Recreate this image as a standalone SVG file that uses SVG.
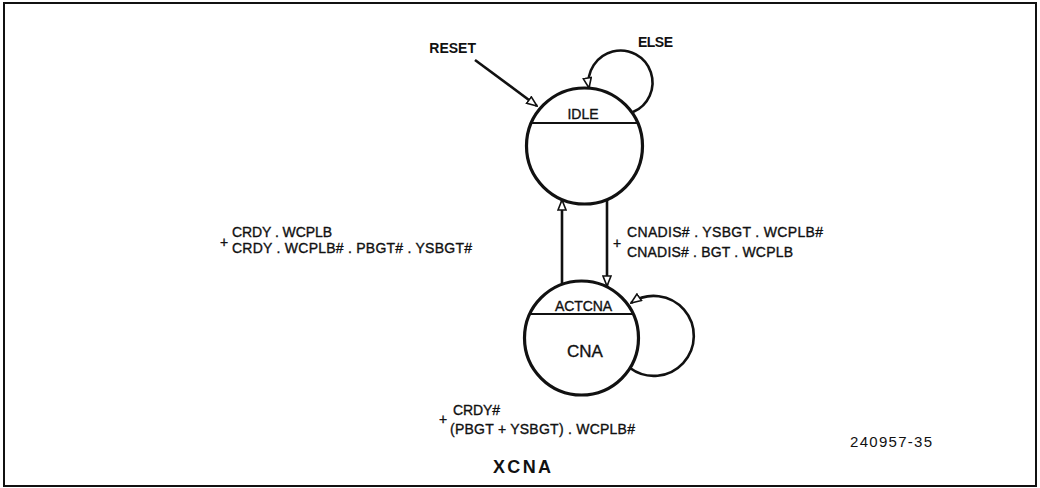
<svg xmlns="http://www.w3.org/2000/svg" width="1040" height="488" viewBox="0 0 1040 488">
  <style>
    .node { fill: #fff; stroke: #111; stroke-width: 3.2; }
    .div { stroke: #111; stroke-width: 2.2; }
    .edge { fill: none; stroke: #111; stroke-width: 2.6; }
    text { font-family: "Liberation Sans", Arial, sans-serif; fill: #111; }
    .lbl { font-size: 14px; stroke: #111; stroke-width: 0.35; }
    .bold { font-weight: bold; stroke: none; }
  </style>
  <defs>
    <marker id="ah" viewBox="0 0 12 10" refX="11" refY="5" markerWidth="12" markerHeight="10" markerUnits="userSpaceOnUse" orient="auto">
      <path d="M1,1 L11,5 L1,9 z" fill="#fff" stroke="#111" stroke-width="1.6"/>
    </marker>
  </defs>
  <rect x="4" y="3" width="1032" height="483" fill="#fff" stroke="#111" stroke-width="2"/>

  <g id="connectors">
    <line class="edge" x1="475" y1="60" x2="537" y2="106" marker-end="url(#ah)"/>
    <path class="edge" d="M 633 112 A 32 32 0 1 0 589 88" marker-end="url(#ah)"/>
    <line class="edge" x1="562" y1="284" x2="562" y2="200" marker-end="url(#ah)"/>
    <line class="edge" x1="607" y1="200" x2="607" y2="286" marker-end="url(#ah)"/>
    <path class="edge" d="M 630 368 A 40 40 0 1 0 631 303" marker-end="url(#ah)"/>
  </g>

  <g id="node-idle">
    <circle class="node" cx="584.5" cy="146" r="58"/>
    <line class="div" x1="531.5" y1="123" x2="637.5" y2="123"/>
    <text class="lbl" x="583" y="119" text-anchor="middle">IDLE</text>
  </g>

  <g id="node-actcna">
    <circle class="node" cx="581.5" cy="338" r="57"/>
    <line class="div" x1="530" y1="314" x2="633" y2="314"/>
    <text class="lbl" x="583.5" y="311" text-anchor="middle" textLength="57">ACTCNA</text>
    <text x="585" y="357" font-size="17" text-anchor="middle" stroke="#111" stroke-width="0.35">CNA</text>
  </g>

  <g id="labels">
    <text class="lbl bold" x="476" y="53" text-anchor="end" font-size="13">RESET</text>
    <text class="lbl bold" x="638" y="47" font-size="13" textLength="35">ELSE</text>

    <text class="lbl" x="224" y="247" text-anchor="middle" font-size="15">+</text>
    <text class="lbl" x="232" y="237" textLength="100">CRDY . WCPLB</text>
    <text class="lbl" x="232" y="253" textLength="240">CRDY . WCPLB# . PBGT# . YSBGT#</text>

    <text class="lbl" x="617" y="248" text-anchor="middle" font-size="15">+</text>
    <text class="lbl" x="627" y="237" textLength="196">CNADIS# . YSBGT . WCPLB#</text>
    <text class="lbl" x="627" y="257" textLength="166">CNADIS# . BGT . WCPLB</text>

    <text class="lbl" x="443" y="424" text-anchor="middle" font-size="15">+</text>
    <text class="lbl" x="453" y="415" textLength="47">CRDY#</text>
    <text class="lbl" x="450" y="434" textLength="185">(PBGT + YSBGT) . WCPLB#</text>

    <text x="850" y="447" font-size="15" textLength="82">240957-35</text>
    <text class="bold" x="493" y="473" font-size="18" textLength="58">XCNA</text>
  </g>
</svg>
